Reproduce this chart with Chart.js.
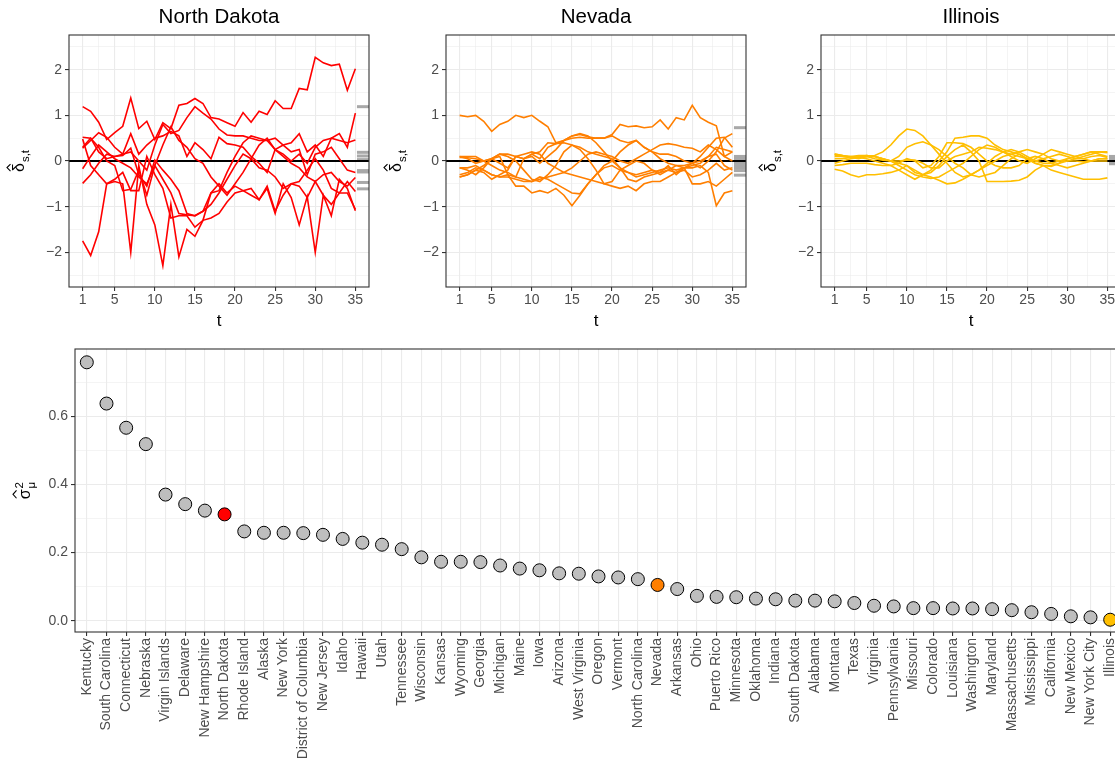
<!DOCTYPE html>
<html>
<head>
<meta charset="utf-8">
<script src="https://cdn.jsdelivr.net/npm/chart.js@4.4.1/dist/chart.umd.min.js"></script>
<style>
  html, body { margin: 0; padding: 0; background: #fff; overflow: hidden; width: 1115px; height: 764px; }
  canvas { position: absolute; }
</style>
</head>
<body>
<canvas id="p1" width="376" height="335" style="left:0px;top:0px"></canvas>
<canvas id="p2" width="376" height="335" style="left:377px;top:0px"></canvas>
<canvas id="p3" width="376" height="335" style="left:752px;top:0px"></canvas>
<canvas id="bottom" width="1130" height="429" style="left:0px;top:335px"></canvas>
<script>
// ---- data ----
const tValues = [1,2,3,4,5,6,7,8,9,10,11,12,13,14,15,16,17,18,19,20,21,22,23,24,25,26,27,28,29,30,31,32,33,34,35];
const tMajor = [1, 5, 10, 15, 20, 25, 30, 35];
const tBreaks = [1, 3, 5, 7.5, 10, 12.5, 15, 17.5, 20, 22.5, 25, 27.5, 30, 32.5, 35];
const deltaMajor = [-2, -1, 0, 1, 2];
const deltaBreaks = [-2.5, -2, -1.5, -1, -0.5, 0, 0.5, 1, 1.5, 2, 2.5];

const northDakota = [
  [1.19,1.09,0.85,0.47,0.62,0.76,1.38,0.71,0.87,0.47,0.84,0.71,1.22,1.26,1.37,1.26,0.95,0.92,0.84,0.76,1.06,0.85,1.09,1.02,1.32,1.15,1.15,1.59,1.56,2.27,2.15,2.09,2.12,1.55,2.02],
  [0.28,0.45,0.62,0.52,0.3,0.15,0.2,0.0,-0.2,0.35,0.8,0.6,0.67,0.95,1.19,1.05,0.92,0.7,0.57,0.55,0.55,0.5,0.45,0.45,0.25,0.15,0.0,0.15,-0.05,0.3,0.45,0.5,0.6,0.3,1.05],
  [0.52,0.5,0.2,0.05,0.1,0.15,0.6,0.15,0.35,0.5,0.55,0.65,0.55,0.1,0.4,0.25,0.05,0.52,0.38,0.35,0.3,0.1,-0.05,-0.25,0.25,0.35,0.4,0.6,0.2,0.35,0.1,0.5,0.45,0.4,0.46],
  [-0.17,0.1,0.35,0.2,0.05,-0.05,-0.15,-0.35,-0.5,-0.1,0.35,0.75,0.45,0.3,0.05,-0.05,-0.35,-0.55,-0.75,-0.5,-0.25,0.05,0.35,0.5,0.25,0.1,-0.05,-0.15,-0.35,-0.45,-0.3,-0.25,-0.45,-0.55,-0.36],
  [-0.49,-0.3,-0.05,0.15,0.1,0.12,0.28,-0.3,-0.55,0.02,-0.2,-0.4,-0.65,-1.15,-1.2,-1.1,-0.95,-0.7,-0.4,-0.1,0.15,0.05,-0.15,-0.2,-0.35,-0.6,-0.5,-0.45,-0.2,0.05,-0.2,-0.6,-0.7,-0.45,-0.67],
  [-1.75,-2.07,-1.55,-0.5,-0.4,-0.25,-0.65,-0.65,0.1,-0.3,-0.6,-1.25,-1.2,-1.2,-1.45,-1.3,-1.25,-1.15,-0.9,-0.7,-0.65,-0.6,-0.85,-0.55,-1.1,-0.75,-0.5,-0.55,-0.8,-0.45,-0.75,-0.95,-0.7,-0.7,-1.06],
  [0.48,-0.1,-0.3,-0.5,-0.45,-0.5,-2.0,-0.1,-0.95,-1.4,-2.29,-0.95,-2.1,-1.5,-1.65,-1.3,-0.7,-0.5,-0.7,-0.55,-0.65,-0.75,-0.85,-0.6,-1.15,-0.5,-0.8,-1.4,-0.78,-2.0,-0.75,-1.2,-0.4,-0.6,-1.09],
  [0.3,0.5,0.3,0.0,-0.1,-0.65,-0.62,-0.2,-0.75,-0.1,-0.4,-0.7,-1.15,-1.18,-1.2,-1.1,-0.7,-0.65,-0.25,0.1,0.4,0.55,0.5,0.45,0.5,0.35,0.2,0.25,-0.3,0.15,0.2,0.3,0.05,-0.2,-0.25]
];
const nevada = [
  [1.0,0.97,1.0,0.87,0.65,0.8,0.87,1.0,0.95,1.0,0.87,0.75,0.4,0.45,0.55,0.58,0.53,0.5,0.5,0.58,0.8,0.75,0.77,0.73,0.75,0.9,0.7,0.95,0.9,1.22,0.95,0.85,0.77,0.1,0.0],
  [0.1,0.1,0.1,0.0,0.05,0.15,0.15,0.1,0.05,0.15,0.2,0.4,0.38,0.45,0.55,0.6,0.55,0.4,0.2,0.0,-0.15,-0.25,-0.35,-0.3,-0.25,-0.2,-0.15,-0.2,-0.15,-0.05,0.1,0.3,0.5,0.52,0.3],
  [-0.15,-0.2,-0.3,-0.15,0.05,0.1,-0.3,-0.35,0.05,0.15,0.05,0.3,0.38,0.4,0.35,0.25,0.05,-0.2,-0.5,-0.45,-0.2,-0.25,-0.3,-0.25,-0.2,-0.3,-0.2,-0.25,-0.15,-0.5,-0.5,-0.45,-0.55,-0.4,-0.25],
  [-0.35,-0.3,-0.2,-0.25,-0.4,-0.3,-0.2,0.1,0.05,0.1,-0.05,0.1,0.25,0.45,0.5,0.52,0.5,0.5,0.5,0.55,0.45,0.4,0.45,0.3,0.2,0.05,-0.05,-0.1,-0.1,-0.05,-0.15,0.0,0.2,0.5,0.6],
  [-0.3,-0.25,-0.15,-0.2,-0.3,-0.35,-0.3,-0.55,-0.55,-0.7,-0.65,-0.7,-0.6,-0.75,-0.98,-0.75,-0.5,-0.3,-0.15,-0.1,-0.2,-0.1,0.0,-0.05,-0.2,-0.25,-0.1,-0.3,-0.15,-0.1,-0.05,0.1,0.3,0.25,0.2],
  [0.08,0.07,0.05,0.0,-0.1,-0.2,-0.25,-0.35,-0.4,-0.45,-0.35,-0.4,-0.5,-0.6,-0.7,-0.72,-0.5,-0.3,-0.1,0.0,0.2,0.35,0.45,0.3,0.2,0.15,0.15,0.1,0.0,-0.05,0.0,0.1,0.15,-0.1,-0.2],
  [-0.35,-0.3,-0.2,-0.1,0.05,0.15,0.1,0.0,-0.2,-0.4,-0.45,-0.3,-0.1,0.2,0.35,0.3,0.2,0.15,0.1,0.05,-0.15,-0.4,-0.45,-0.35,-0.3,-0.25,-0.2,-0.1,-0.15,-0.15,-0.1,-0.25,-0.98,-0.7,-0.65],
  [-0.15,-0.15,-0.1,-0.2,-0.3,-0.35,-0.35,-0.4,-0.45,-0.45,-0.4,-0.35,-0.3,-0.25,-0.15,0.0,0.15,0.2,0.15,0.1,0.0,-0.05,0.05,0.15,0.25,0.35,0.38,0.35,0.3,0.28,0.2,0.35,0.25,0.1,0.2],
  [0.1,0.05,-0.05,0.0,0.05,-0.05,-0.15,0.1,0.15,0.2,0.15,-0.05,-0.15,-0.25,-0.3,-0.35,-0.4,-0.45,-0.5,-0.55,-0.6,-0.55,-0.65,-0.5,-0.45,-0.45,-0.35,-0.25,-0.2,-0.35,-0.3,-0.2,-0.05,-0.2,-0.15]
];
const illinois = [
  [0.1,0.1,0.08,0.05,0.1,0.12,0.2,0.35,0.55,0.7,0.67,0.55,0.35,0.15,-0.05,-0.25,-0.35,-0.3,-0.2,-0.05,0.1,0.2,0.25,0.2,0.1,0.0,-0.05,-0.05,0.0,0.05,0.1,0.15,0.2,0.15,0.1],
  [0.15,0.12,0.1,0.08,0.05,0.0,-0.05,-0.1,-0.2,-0.3,-0.4,-0.3,-0.2,0.0,0.2,0.5,0.52,0.55,0.55,0.5,0.35,0.25,0.2,0.15,0.05,-0.05,-0.1,-0.1,-0.05,0.0,0.05,0.1,0.15,0.2,0.2],
  [-0.18,-0.22,-0.3,-0.35,-0.3,-0.3,-0.28,-0.25,-0.2,-0.1,-0.2,-0.3,-0.35,-0.42,-0.5,-0.48,-0.4,-0.3,-0.2,-0.1,0.0,0.1,0.15,0.2,0.25,0.2,0.15,0.05,0.0,0.0,0.0,-0.02,0.0,0.05,0.05],
  [0.05,0.05,0.08,0.1,0.1,0.1,0.05,0.0,-0.05,-0.1,-0.25,-0.3,-0.25,-0.1,0.1,0.25,0.35,0.2,0.0,-0.45,-0.45,-0.45,-0.44,-0.42,-0.35,-0.2,-0.1,-0.2,-0.25,-0.3,-0.35,-0.4,-0.4,-0.4,-0.37],
  [-0.05,0.0,0.05,0.08,0.1,0.05,0.02,0.0,0.1,0.3,0.38,0.42,0.35,0.25,0.1,-0.05,-0.15,-0.3,-0.35,-0.3,-0.25,-0.1,0.05,0.15,0.05,-0.05,-0.1,-0.12,-0.05,0.05,0.1,0.15,0.2,0.2,0.18],
  [0.12,0.1,0.1,0.12,0.12,0.1,0.05,0.0,-0.1,-0.2,-0.3,-0.35,-0.38,-0.35,-0.25,-0.15,-0.05,0.1,0.25,0.35,0.3,0.2,0.1,0.0,-0.05,0.05,0.15,0.25,0.2,0.15,0.1,0.05,0.0,0.05,0.05],
  [-0.1,-0.08,-0.05,-0.05,-0.05,-0.08,-0.1,-0.1,-0.05,0.05,0.0,-0.15,-0.1,0.1,0.4,0.4,0.38,0.3,0.15,0.0,-0.1,-0.15,-0.15,-0.1,0.05,0.1,0.05,-0.05,-0.1,-0.15,-0.1,-0.05,0.0,0.0,0.0],
  [0.15,0.12,0.08,0.1,0.12,0.1,0.05,0.0,0.0,0.02,0.02,-0.05,-0.15,-0.15,0.0,0.1,0.15,0.2,0.3,0.28,0.25,0.2,0.15,0.1,0.05,0.0,0.05,0.1,0.15,0.1,0.05,0.05,0.1,0.12,0.08]
];
// grey marks at the right edge of each panel
const northDakotaMeans = [1.19, 0.19, 0.11, 0.03, -0.21, -0.24, -0.47, -0.61];
const nevadaMeans = [0.73, 0.10, 0.06, 0.01, -0.05, -0.10, -0.15, -0.21, -0.31];
const illinoisMeans = [0.10, 0.06, 0.02, -0.03, -0.06];

const states = ['Kentucky','South Carolina','Connecticut','Nebraska','Virgin Islands','Delaware','New Hampshire','North Dakota','Rhode Island','Alaska','New York','District of Columbia','New Jersey','Idaho','Hawaii','Utah','Tennessee','Wisconsin','Kansas','Wyoming','Georgia','Michigan','Maine','Iowa','Arizona','West Virginia','Oregon','Vermont','North Carolina','Nevada','Arkansas','Ohio','Puerto Rico','Minnesota','Oklahoma','Indiana','South Dakota','Alabama','Montana','Texas','Virginia','Pennsylvania','Missouri','Colorado','Louisiana','Washington','Maryland','Massachusetts','Mississippi','California','New Mexico','New York City','Illinois'];
const sigmaMu = [0.758,0.637,0.566,0.518,0.370,0.342,0.323,0.312,0.262,0.258,0.258,0.257,0.252,0.240,0.229,0.223,0.210,0.186,0.173,0.173,0.172,0.162,0.153,0.148,0.139,0.138,0.130,0.127,0.122,0.105,0.093,0.073,0.070,0.069,0.065,0.063,0.059,0.059,0.057,0.052,0.044,0.042,0.037,0.037,0.036,0.036,0.034,0.031,0.025,0.020,0.013,0.010,0.003];
const sigmaMajor = [0, 0.2, 0.4, 0.6];
const sigmaBreaks = [0, 0.1, 0.2, 0.3, 0.4, 0.5, 0.6, 0.7];

const highlight = { 'North Dakota': '#FF0000', 'Nevada': '#FF7F00', 'Illinois': '#FFBF00' };
const pointGrey = '#BEBEBE';

// ---- styling helpers ----
const FONT = '"Liberation Sans", Arial, Helvetica, sans-serif';
const TICK_SIZE = 14;
Chart.defaults.font.family = FONT;
Chart.defaults.animation = false;

const tMin = -0.7, tMax = 36.7, rugStart = 35.2;
const deltaMin = -2.76, deltaMax = 2.76;
const fmtNum = v => v < 0 ? '\u2212' + Math.abs(v) : String(v);

function drawMathTitle(ctx, x, y, base, sup, sub) {
  ctx.save();
  ctx.translate(x, y);
  ctx.rotate(-Math.PI / 2);
  ctx.fillStyle = '#000';
  ctx.strokeStyle = '#000';
  ctx.textBaseline = 'alphabetic';
  ctx.font = '16px ' + FONT;
  const bw = ctx.measureText(base).width;
  ctx.font = '11.5px ' + FONT;
  const sw = Math.max(sup ? ctx.measureText(sup).width : 0, sub ? ctx.measureText(sub).width : 0);
  const x0 = -(bw + 1 + sw) / 2;
  ctx.font = '16px ' + FONT;
  ctx.fillText(base, x0, 0);
  // hat
  ctx.lineWidth = 1.1;
  ctx.beginPath();
  ctx.moveTo(x0 + 1, -13.5);
  ctx.lineTo(x0 + bw / 2, -17);
  ctx.lineTo(x0 + bw - 1, -13.5);
  ctx.stroke();
  ctx.font = '11.5px ' + FONT;
  if (sup) ctx.fillText(sup, x0 + bw + 1, -7);
  if (sub) ctx.fillText(sub, x0 + bw + 1, 4.5);
  ctx.restore();
}

const panelDecor = {
  id: 'panelDecor',
  afterDraw(chart, args, opts) {
    const { ctx, chartArea: a } = chart;
    ctx.save();
    ctx.strokeStyle = '#333333';
    ctx.lineWidth = 1.1;
    ctx.strokeRect(a.left, a.top, a.right - a.left, a.bottom - a.top);
    ctx.fillStyle = '#000';
    ctx.textAlign = 'center';
    if (opts.title) {
      ctx.font = '20.5px ' + FONT;
      ctx.textBaseline = 'middle';
      ctx.fillText(opts.title, (a.left + a.right) / 2, 17);
    }
    if (opts.xTitle) {
      ctx.font = '17px ' + FONT;
      ctx.textBaseline = 'middle';
      ctx.fillText(opts.xTitle, (a.left + a.right) / 2, opts.xTitleY);
    }
    ctx.restore();
    if (opts.yTitle) drawMathTitle(ctx, opts.yTitle.x, (a.top + a.bottom) / 2, opts.yTitle.base, opts.yTitle.sup, opts.yTitle.sub);
  }
};

function makePanel(id, title, lines, means, color) {
  const datasets = lines.map(vals => ({
    data: vals.map((v, i) => ({ x: tValues[i], y: v })),
    borderColor: color,
    borderWidth: 1.6,
    pointRadius: 0,
    tension: 0
  }));
  datasets.push({
    data: [{ x: tMin, y: 0 }, { x: tMax, y: 0 }],
    borderColor: '#000',
    borderWidth: 1.8,
    pointRadius: 0
  });
  means.forEach(m => datasets.push({
    data: [{ x: rugStart, y: m }, { x: tMax, y: m }],
    borderColor: '#A8A8A8',
    borderWidth: 3,
    borderCapStyle: 'butt',
    pointRadius: 0
  }));

  new Chart(document.getElementById(id), {
    type: 'line',
    data: { datasets },
    plugins: [panelDecor],
    options: {
      responsive: false,
      devicePixelRatio: 1,
      events: [],
      layout: { padding: { left: 29, right: 7, top: 35, bottom: 0 } },
      plugins: {
        legend: { display: false },
        tooltip: { enabled: false },
        panelDecor: { title, xTitle: 't', xTitleY: 321, yTitle: { x: 24, base: '\u03B4', sub: 's,t' } }
      },
      scales: {
        x: {
          type: 'linear',
          min: tMin, max: tMax,
          afterBuildTicks: s => { s.ticks = tBreaks.map(v => ({ value: v })); },
          afterFit: s => { s.height = 48; },
          ticks: {
            autoSkip: false, maxRotation: 0,
            callback: v => tMajor.includes(v) ? String(v) : '',
            color: '#4D4D4D', font: { size: TICK_SIZE }, padding: 1
          },
          grid: {
            color: '#EBEBEB',
            lineWidth: c => tMajor.includes(c.tick.value) ? 1.1 : 0.55,
            tickLength: 4,
            tickWidth: 1.1,
            tickColor: c => tMajor.includes(c.tick.value) ? '#333333' : 'rgba(0,0,0,0)'
          },
          border: { display: false }
        },
        y: {
          min: deltaMin, max: deltaMax,
          afterBuildTicks: s => { s.ticks = deltaBreaks.map(v => ({ value: v })); },
          afterFit: s => { s.width = 40; },
          ticks: {
            autoSkip: false,
            callback: v => deltaMajor.includes(v) ? fmtNum(v) : '',
            color: '#4D4D4D', font: { size: TICK_SIZE }, padding: 3
          },
          grid: {
            color: '#EBEBEB',
            lineWidth: c => deltaMajor.includes(c.tick.value) ? 1.1 : 0.55,
            tickLength: 4,
            tickWidth: 1.1,
            tickColor: c => deltaMajor.includes(c.tick.value) ? '#333333' : 'rgba(0,0,0,0)'
          },
          border: { display: false }
        }
      }
    }
  });
}

makePanel('p1', 'North Dakota', northDakota, northDakotaMeans, highlight['North Dakota']);
makePanel('p2', 'Nevada', nevada, nevadaMeans, highlight['Nevada']);
makePanel('p3', 'Illinois', illinois, illinoisMeans, highlight['Illinois']);

// ---- bottom dot chart ----
new Chart(document.getElementById('bottom'), {
  type: 'scatter',
  data: {
    datasets: [{
      data: sigmaMu.map((v, i) => ({ x: i, y: v })),
      pointRadius: 6.5,
      pointBorderWidth: 1,
      pointBorderColor: '#000',
      pointBackgroundColor: states.map(s => highlight[s] || pointGrey)
    }]
  },
  plugins: [panelDecor],
  options: {
    responsive: false,
    devicePixelRatio: 1,
    events: [],
    layout: { padding: { left: 40, right: 8, top: 14, bottom: 0 } },
    plugins: {
      legend: { display: false },
      tooltip: { enabled: false },
      panelDecor: { yTitle: { x: 30, base: '\u03C3', sup: '2', sub: '\u03BC' } }
    },
    scales: {
      x: {
        type: 'linear',
        min: -0.6, max: states.length - 0.4,
        afterBuildTicks: s => { s.ticks = states.map((_, i) => ({ value: i })); },
        afterFit: s => { s.height = 132; },
        ticks: {
          autoSkip: false, minRotation: 90, maxRotation: 90,
          callback: v => states[v],
          color: '#4D4D4D', font: { size: TICK_SIZE }, padding: 2
        },
        grid: { color: '#EBEBEB', lineWidth: 1.1, tickLength: 4, tickWidth: 1.1, tickColor: '#333333' },
        border: { display: false }
      },
      y: {
        min: -0.033, max: 0.797,
        afterBuildTicks: s => { s.ticks = sigmaBreaks.map(v => ({ value: v })); },
        afterFit: s => { s.width = 35; },
        ticks: {
          autoSkip: false,
          callback: v => sigmaMajor.includes(v) ? v.toFixed(1) : '',
          color: '#4D4D4D', font: { size: TICK_SIZE }, padding: 3
        },
        grid: {
          color: '#EBEBEB',
          lineWidth: c => sigmaMajor.includes(c.tick.value) ? 1.1 : 0.55,
          tickLength: 4,
          tickWidth: 1.1,
          tickColor: c => sigmaMajor.includes(c.tick.value) ? '#333333' : 'rgba(0,0,0,0)'
        },
        border: { display: false }
      }
    }
  }
});
</script>
</body>
</html>
